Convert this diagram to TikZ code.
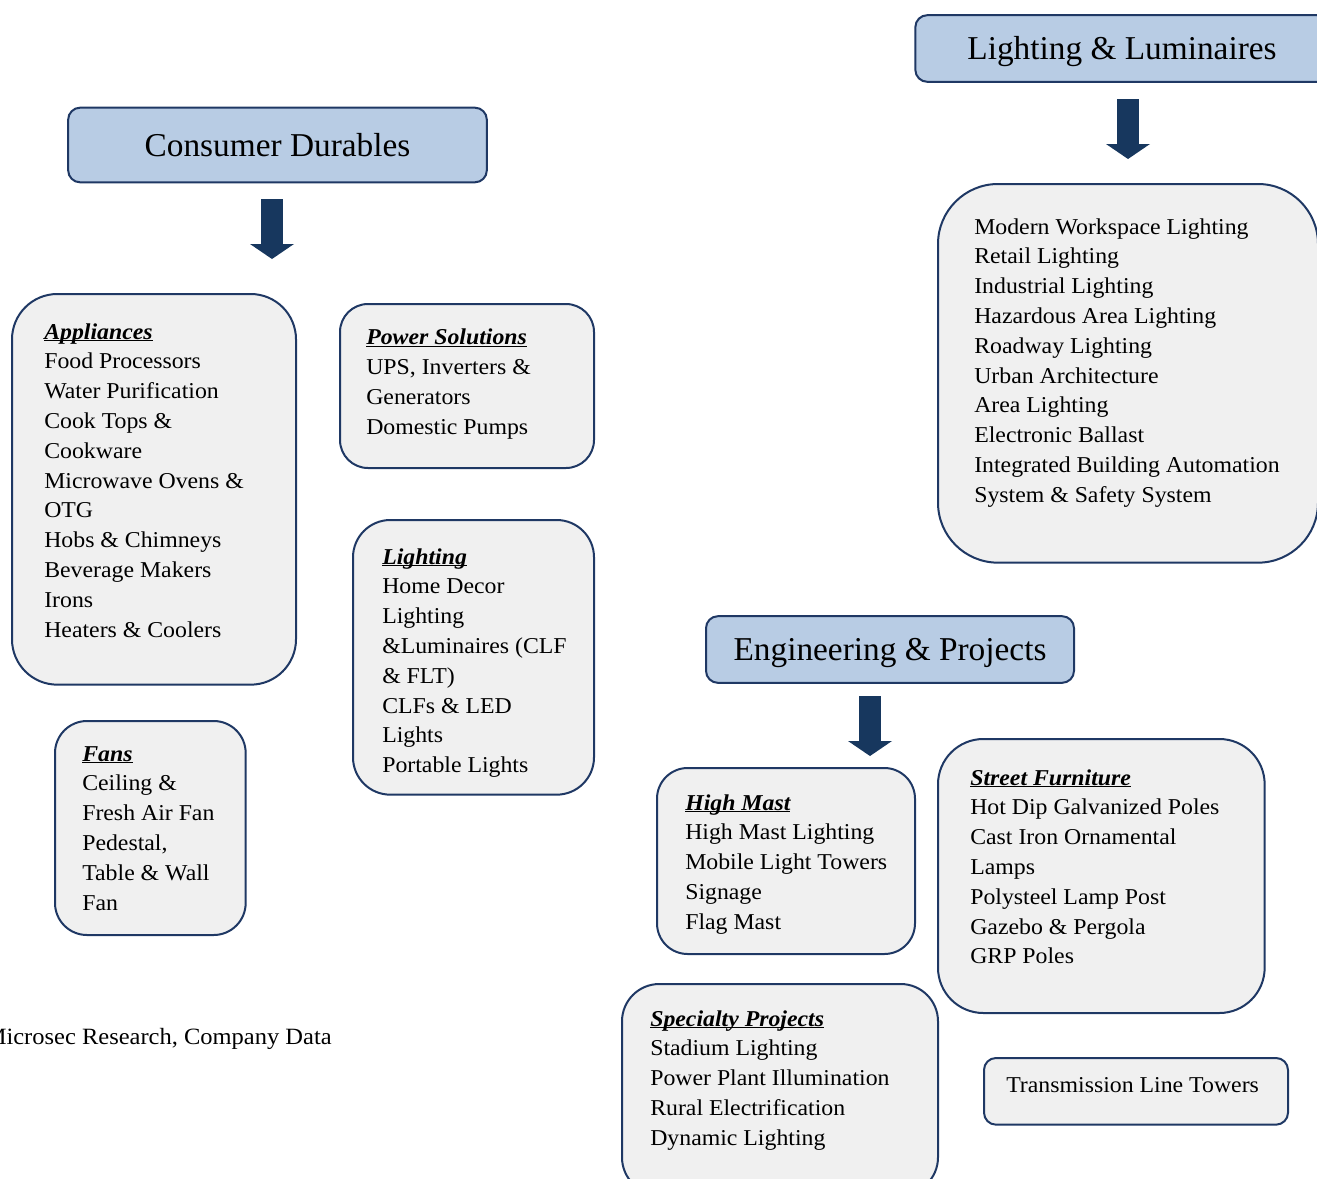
\documentclass[tikz,border=0pt]{standalone}
\usepackage{fontspec}
\setmainfont{Liberation Serif}[FakeStretch=1.05]
\newfontfamily\titlefont{Liberation Serif}
\usetikzlibrary{arrows.meta,positioning}

\definecolor{hdfill}{HTML}{B8CCE4}
\definecolor{boxline}{HTML}{1F3864}
\definecolor{boxfill}{HTML}{F0F0F0}
\definecolor{arrowblue}{HTML}{17375E}

\newsavebox\hdbox
\newcommand\subhd[1]{\sbox\hdbox{\bfseries\itshape #1}\rlap{\rule[-1.6pt]{\wd\hdbox}{0.8pt}}\usebox\hdbox}

\begin{document}
\begin{tikzpicture}[x=0.75pt,y=-0.75pt,
  head/.style={draw=boxline,line width=1.5pt,fill=hdfill,rounded corners=9pt,
    text height=19pt,text depth=2.5pt,font=\titlefont\fontsize{25}{28}\selectfont},
  listbox/.style={draw=boxline,line width=1.5pt,fill=boxfill,anchor=north west},
  items/.style={anchor=north west,inner sep=0pt,align=left,
    font=\fontsize{17}{22.35}\selectfont},
  bigarrow/.style={arrowblue,line width=16.5pt,
    -{Triangle[width=33pt,length=11.25pt,line width=0pt]}}]
  \useasboundingbox (0,0) rectangle (1317,1178);

  % group headers
  \node[head,minimum width=314pt,minimum height=56pt] (cd) at (277.5,145) {Consumer Durables};
  \node[head,minimum width=310pt,minimum height=50pt] (ll) at (1122,48.5) {Lighting \& Luminaires};
  \node[head,minimum width=276pt,minimum height=50pt] (ep) at (890,649.5) {Engineering \& Projects};

  % block arrows
  \coordinate (cdtop) at (272,199);
  \coordinate (cdtip) at (272,259);
  \coordinate (lltop) at (1128,99);
  \coordinate (lltip) at (1128,159);
  \coordinate (eptop) at (870,696);
  \coordinate (eptip) at (870,756);
  \draw[bigarrow] (cdtop) -- (cdtip);
  \draw[bigarrow] (lltop) -- (lltip);
  \draw[bigarrow] (eptop) -- (eptip);

  % consumer durables
  \node[listbox,minimum width=213pt,minimum height=293pt,rounded corners=34pt] (appl) at (11,293) {};
  \node[items] (applt) at (44,323) {\subhd{Appliances}\\Food Processors\\Water Purification\\
    Cook Tops \&\\Cookware\\Microwave Ovens \&\\OTG\\Hobs \& Chimneys\\
    Beverage Makers\\Irons\\Heaters \& Coolers};
  \node[listbox,minimum width=190.5pt,minimum height=123pt,rounded corners=21pt] (pow) at (339,303) {};
  \node[items] (powt) at (366,329) {\subhd{Power Solutions}\\UPS, Inverters \&\\Generators\\Domestic Pumps};
  \node[listbox,minimum width=180.75pt,minimum height=206pt,rounded corners=28pt] (lite) at (352,519) {};
  \node[items] (litet) at (382,548) {\subhd{Lighting}\\Home Decor\\Lighting\\\&Luminaires (CLF\\
    \& FLT)\\CLFs \& LED\\Lights\\Portable Lights};
  \node[listbox,minimum width=143pt,minimum height=160.5pt,rounded corners=24pt] (fans) at (54,720) {};
  \node[items] (fanst) at (82,746) {\subhd{Fans}\\Ceiling \&\\Fresh Air Fan\\Pedestal,\\Table \& Wall\\Fan};

  \node[anchor=east,inner sep=0pt,font=\fontsize{17.5}{20}\selectfont] (src) at (332,1039)
    {Microsec Research, Company Data};

  % lighting and luminaires
  \node[listbox,minimum width=285pt,minimum height=284pt,rounded corners=45pt] (lum) at (937,183) {};
  \node[items] (lumt) at (974,218) {Modern Workspace Lighting\\Retail Lighting\\Industrial Lighting\\
    Hazardous Area Lighting\\Roadway Lighting\\Urban Architecture\\Area Lighting\\
    Electronic Ballast\\Integrated Building Automation\\System \& Safety System};

  % engineering and projects
  \node[listbox,minimum width=193.5pt,minimum height=139.5pt,rounded corners=23pt] (mast) at (656,767) {};
  \node[items] (mastt) at (685,794) {\subhd{High Mast}\\High Mast Lighting\\Mobile Light Towers\\
    Signage\\Flag Mast};
  \node[listbox,minimum width=245pt,minimum height=205.5pt,rounded corners=34pt] (street) at (937,738) {};
  \node[items] (streett) at (970,769) {\subhd{Street Furniture}\\Hot Dip Galvanized Poles\\
    Cast Iron Ornamental\\Lamps\\Polysteel Lamp Post\\Gazebo \& Pergola\\GRP Poles};
  \node[listbox,minimum width=237pt,minimum height=158pt,rounded corners=28pt] (spec) at (621,983) {};
  \node[items] (spect) at (650,1010) {\subhd{Specialty Projects}\\Stadium Lighting\\
    Power Plant Illumination\\Rural Electrification\\Dynamic Lighting};
  \node[listbox,minimum width=228pt,minimum height=50pt,rounded corners=9pt] (tower) at (983,1057) {};
  \node[items,anchor=base west] (towert) at (1006,1092) {Transmission Line Towers};
\end{tikzpicture}
\end{document}
